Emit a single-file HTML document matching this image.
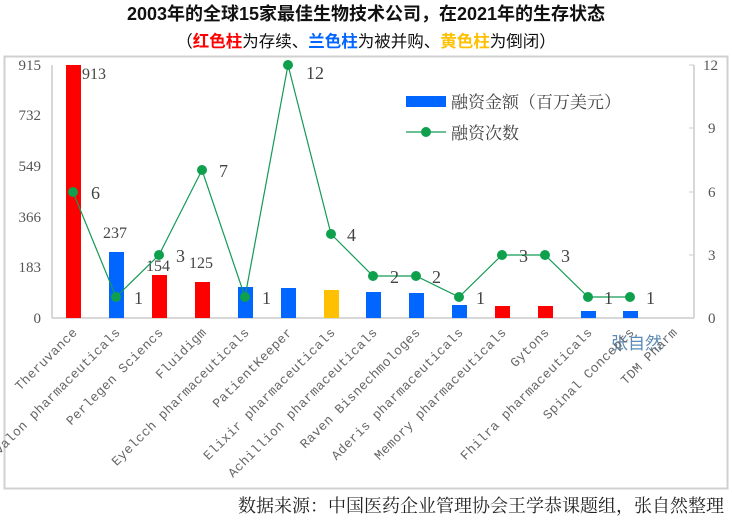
<!DOCTYPE html>
<html><head><meta charset="utf-8"><style>
body{margin:0;background:#fff;width:732px;height:521px;overflow:hidden}
</style></head><body>
<svg width="732" height="521" xmlns="http://www.w3.org/2000/svg" font-family="'Liberation Serif','Noto Serif CJK SC',serif">
<text x="366" y="20" text-anchor="middle" font-family="'Liberation Sans','Noto Sans CJK SC',sans-serif" font-weight="bold" font-size="18" fill="#111">2003年的全球15家最佳生物技术公司，在2021年的生存状态</text>
<text x="366" y="47" text-anchor="middle" font-family="'Liberation Sans','Noto Sans CJK SC',sans-serif" font-size="16.5" fill="#111">（<tspan fill="#f00" font-weight="bold">红色柱</tspan>为存续、<tspan fill="#0066ff" font-weight="bold">兰色柱</tspan>为被并购、<tspan fill="#ffc000" font-weight="bold">黄色柱</tspan>为倒闭）</text>
<rect x="4.5" y="56.5" width="723" height="432" fill="none" stroke="#d0d0d0" stroke-width="2"/>
<g stroke="#ccc" stroke-width="1.5"><line x1="52" y1="65" x2="52" y2="318"/><line x1="52" y1="318" x2="694" y2="318"/><line x1="694" y1="65" x2="694" y2="318"/></g>
<g stroke="#ccc"><line x1="694" y1="65" x2="689" y2="65"/><line x1="694" y1="128" x2="689" y2="128"/><line x1="694" y1="192" x2="689" y2="192"/><line x1="694" y1="255" x2="689" y2="255"/></g>
<g font-size="15" fill="#555" text-anchor="end">
<text x="41" y="70">915</text><text x="41" y="120">732</text><text x="41" y="171">549</text><text x="41" y="222">366</text><text x="41" y="272">183</text><text x="41" y="323">0</text></g>
<g font-size="15" fill="#555"><text x="703" y="70">12</text><text x="708" y="133">9</text><text x="708" y="197">6</text><text x="708" y="260">3</text><text x="708" y="323">0</text></g>
<g>
<rect x="66" y="65" width="15" height="253" fill="#f00"/>
<rect x="109" y="252" width="15" height="66" fill="#0066ff"/>
<rect x="152" y="275" width="15" height="43" fill="#f00"/>
<rect x="195" y="282" width="15" height="36" fill="#f00"/>
<rect x="238" y="287" width="15" height="31" fill="#0066ff"/>
<rect x="281" y="288" width="15" height="30" fill="#0066ff"/>
<rect x="324" y="290" width="15" height="28" fill="#ffc000"/>
<rect x="366" y="292" width="15" height="26" fill="#0066ff"/>
<rect x="409" y="293" width="15" height="25" fill="#0066ff"/>
<rect x="452" y="305" width="15" height="13" fill="#0066ff"/>
<rect x="495" y="306" width="15" height="12" fill="#f00"/>
<rect x="538" y="306" width="15" height="12" fill="#f00"/>
<rect x="581" y="311" width="15" height="7" fill="#0066ff"/>
<rect x="623" y="311" width="15" height="7" fill="#0066ff"/>
</g>
<g font-size="16" fill="#444"><text x="82" y="79">913</text><text x="103" y="238">237</text><text x="146" y="271">154</text><text x="189" y="268">125</text></g>
<polyline fill="none" stroke="#139a55" stroke-width="1.2" points="73,192 116,297 159,255 202,170 245,297 288,65 331,234 373,276 416,276 459,297 502,255 545,255 588,297 630,297"/>
<g fill="#0fa04d">
<circle cx="73" cy="192" r="5"/><circle cx="116" cy="297" r="5"/><circle cx="159" cy="255" r="5"/><circle cx="202" cy="170" r="5"/><circle cx="245" cy="297" r="5"/><circle cx="288" cy="65" r="5"/><circle cx="331" cy="234" r="5"/><circle cx="373" cy="276" r="5"/><circle cx="416" cy="276" r="5"/><circle cx="459" cy="297" r="5"/><circle cx="502" cy="255" r="5"/><circle cx="545" cy="255" r="5"/><circle cx="588" cy="297" r="5"/><circle cx="630" cy="297" r="5"/></g>
<g font-size="18" fill="#444">
<text x="91" y="199">6</text><text x="134" y="304">1</text><text x="176" y="262">3</text><text x="219" y="177">7</text><text x="262" y="304">1</text><text x="306" y="79">12</text><text x="347" y="241">4</text><text x="390" y="283">2</text><text x="432" y="283">2</text><text x="476" y="304">1</text><text x="519" y="262">3</text><text x="561" y="262">3</text><text x="604" y="304">1</text><text x="646" y="304">1</text></g>
<rect x="406" y="96" width="40" height="11" fill="#0066ff"/>
<line x1="406" y1="132" x2="446" y2="132" stroke="#139a55" stroke-width="1.2"/><circle cx="426" cy="132" r="5" fill="#0fa04d"/>
<g font-family="'Liberation Serif','Noto Serif CJK SC',serif" font-size="17" fill="#444"><text x="451" y="108">融资金额（百万美元）</text><text x="451" y="139">融资次数</text></g>
<text x="611" y="349" font-size="17" fill="#5a8ab5" font-family="'Noto Sans CJK SC',sans-serif">张自然</text>
<g font-size="13" fill="#666" text-anchor="end" font-family="'Liberation Mono',monospace" letter-spacing="0.4">
<text transform="translate(78,333) rotate(-45)">Theruvance</text>
<text transform="translate(121,333) rotate(-45)">Avalon pharmaceuticals</text>
<text transform="translate(164,333) rotate(-45)">Perlegen Sciencs</text>
<text transform="translate(207,333) rotate(-45)">Fluidigm</text>
<text transform="translate(250,333) rotate(-45)">Eyelcch pharmaceuticals</text>
<text transform="translate(293,333) rotate(-45)">PatientKeeper</text>
<text transform="translate(336,333) rotate(-45)">Elixir pharmaceuticals</text>
<text transform="translate(378,333) rotate(-45)">Achillion pharmaceuticals</text>
<text transform="translate(421,333) rotate(-45)">Raven Bisnechmologes</text>
<text transform="translate(464,333) rotate(-45)">Aderis pharmaceuticals</text>
<text transform="translate(507,333) rotate(-45)">Memory pharmaceuticals</text>
<text transform="translate(550,333) rotate(-45)">Gytons</text>
<text transform="translate(593,333) rotate(-45)">Fhilra pharmaceuticals</text>
<text transform="translate(635,333) rotate(-45)">Spinal Concepts</text>
<text transform="translate(678,333) rotate(-45)">TDM Pharm</text>
</g>
<text x="724" y="512" text-anchor="end" font-size="18" fill="#222">数据来源：中国医药企业管理协会王学恭课题组，张自然整理</text>
</svg>
</body></html>
